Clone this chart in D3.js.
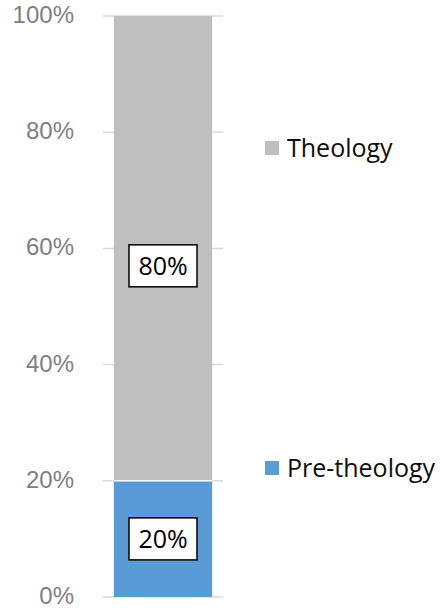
<!DOCTYPE html>
<html>
<head>
<meta charset="utf-8">
<script src="https://cdn.jsdelivr.net/npm/d3@7"></script>
<style>
  html, body { margin: 0; padding: 0; background: #fff; }
  svg { display: block; font-family: "Open Sans", sans-serif; }
</style>
</head>
<body>
<div id="chart"></div>
<script>
// data
const categories = [""];
const seriesNames = ["Pre-theology", "Theology"];
const seriesValues = [[0.2], [0.8]];
const seriesColors = ["#5b9bd5", "#bfbfbf"];
const labelAt = [0.1, 0.57]; // label centres
const yTicks = [0, 0.2, 0.4, 0.6, 0.8, 1];

const width = 440;
const height = 609;
const margin = { top: 16, bottom: 12, left: 103, right: 217 };

const svg = d3
  .select("#chart")
  .append("svg")
  .attr("width", width)
  .attr("height", height);

const x = d3
  .scaleBand()
  .domain(categories)
  .range([margin.left, width - margin.right])
  .paddingInner(0)
  .paddingOuter(0.11);

const y = d3
  .scaleLinear()
  .domain([0, 1])
  .range([height - margin.bottom, margin.top]);

// gridlines
svg
  .append("g")
  .selectAll("line")
  .data(yTicks)
  .join("line")
  .attr("x1", margin.left)
  .attr("x2", width - margin.right)
  .attr("y1", (d) => y(d))
  .attr("y2", (d) => y(d))
  .attr("stroke", "#d9d9d9")
  .attr("stroke-width", 1.5);

// y axis labels
const yAxis = (g) =>
  g
    .attr("transform", `translate(${margin.left - 29},0)`)
    .call(d3.axisLeft(y).tickValues(yTicks).tickFormat(d3.format(".0%")).tickSize(0))
    .call((g) => g.select(".domain").remove())
    .call((g) =>
      g
        .selectAll("text")
        .attr("fill", "#7f7f7f")
        .attr("font-size", "24px")
        .attr("x", 0)
        .attr("dy", "0.27em")
        .attr("font-family", "Liberation Sans")
    );
svg.append("g").call(yAxis);

// stacked segments
const stacked = [];
let base = 0;
seriesNames.forEach((name, i) => {
  const v = seriesValues[i][0];
  stacked.push({ name, y0: base, y1: base + v, color: seriesColors[i], label: labelAt[i], value: v });
  base += v;
});

svg
  .append("g")
  .selectAll("rect")
  .data(stacked)
  .join("rect")
  .attr("x", x(categories[0]))
  .attr("width", x.bandwidth())
  .attr("y", (d) => y(d.y1))
  .attr("height", (d) => y(d.y0) - y(d.y1))
  .attr("fill", (d) => d.color);

// white separator between the segments
svg
  .append("line")
  .attr("x1", x(categories[0]))
  .attr("x2", x(categories[0]) + x.bandwidth())
  .attr("y1", y(stacked[0].y1))
  .attr("y2", y(stacked[0].y1))
  .attr("stroke", "#fff")
  .attr("stroke-width", 1.5);

// data labels in boxes
const labels = svg
  .append("g")
  .selectAll("g")
  .data(stacked)
  .join("g")
  .attr(
    "transform",
    (d) => `translate(${x(categories[0]) + x.bandwidth() / 2},${y(d.label)})`
  );

labels
  .append("rect")
  .attr("x", -34)
  .attr("y", -21)
  .attr("width", 68)
  .attr("height", 42)
  .attr("fill", "#fff")
  .attr("stroke", "#000")
  .attr("stroke-width", 1.5);

labels
  .append("text")
  .attr("text-anchor", "middle")
  .attr("dy", "0.35em")
  .attr("font-size", "25px")
  .attr("fill", "#000")
  .text((d) => d3.format(".0%")(d.value));

// legend
const legendY = { "Theology": 148, "Pre-theology": 468 };
const legend = svg
  .append("g")
  .selectAll("g")
  .data(stacked)
  .join("g")
  .attr("transform", (d) => `translate(265,${legendY[d.name]})`);

legend
  .append("rect")
  .attr("x", 0)
  .attr("y", -7)
  .attr("width", 14)
  .attr("height", 14)
  .attr("fill", (d) => d.color);

legend
  .append("text")
  .attr("x", 22)
  .attr("dy", "0.35em")
  .attr("font-size", "25px")
  .attr("fill", "#0d0d0d")
  .text((d) => d.name);
</script>
</body>
</html>
